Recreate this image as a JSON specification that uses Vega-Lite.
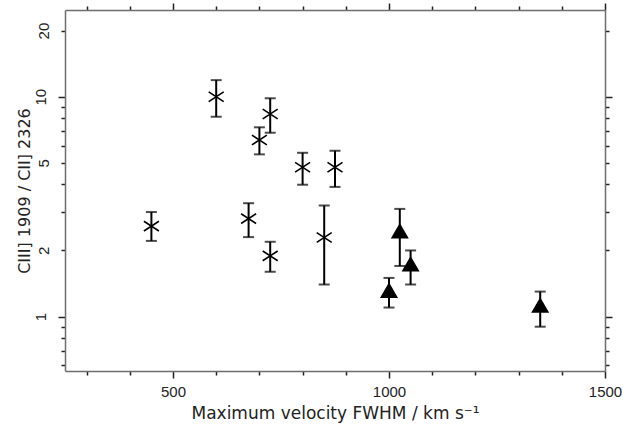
{
  "$schema": "https://vega.github.io/schema/vega-lite/v6.json",
  "width": 540,
  "height": 361,
  "autosize": "none",
  "padding": {"left": 65, "top": 10, "right": 36, "bottom": 65},
  "background": "white",
  "config": {
    "view": {"stroke": null},
    "axis": {
      "domainColor": "#6e6e6e",
      "domainWidth": 1.5,
      "tickColor": "#222222",
      "tickWidth": 1.5,
      "grid": false,
      "labelFont": "Liberation Sans",
      "labelFontSize": 15,
      "labelColor": "#222222",
      "titleFont": "DejaVu Sans",
      "titleFontSize": 16,
      "titleFontWeight": "normal",
      "titleColor": "#222222",
      "labelOverlap": false,
      "labelBound": false,
      "labelFlush": false
    }
  },
  "data": {
    "values": [
      {"fwhm": 450, "ratio": 2.58, "lo": 2.21, "hi": 2.99, "group": "cross"},
      {"fwhm": 600, "ratio": 10.0, "lo": 8.11, "hi": 11.9, "group": "cross"},
      {"fwhm": 725, "ratio": 8.34, "lo": 6.86, "hi": 9.84, "group": "cross"},
      {"fwhm": 700, "ratio": 6.36, "lo": 5.47, "hi": 7.26, "group": "cross"},
      {"fwhm": 800, "ratio": 4.78, "lo": 3.98, "hi": 5.56, "group": "cross"},
      {"fwhm": 875, "ratio": 4.78, "lo": 3.89, "hi": 5.68, "group": "cross"},
      {"fwhm": 675, "ratio": 2.79, "lo": 2.30, "hi": 3.28, "group": "cross"},
      {"fwhm": 725, "ratio": 1.89, "lo": 1.60, "hi": 2.19, "group": "cross"},
      {"fwhm": 850, "ratio": 2.29, "lo": 1.40, "hi": 3.20, "group": "cross"},
      {"fwhm": 1000, "ratio": 1.32, "lo": 1.10, "hi": 1.50, "group": "triangle"},
      {"fwhm": 1025, "ratio": 2.46, "lo": 1.70, "hi": 3.09, "group": "triangle"},
      {"fwhm": 1050, "ratio": 1.74, "lo": 1.40, "hi": 2.00, "group": "triangle"},
      {"fwhm": 1350, "ratio": 1.13, "lo": 0.90, "hi": 1.30, "group": "triangle"}
    ]
  },
  "resolve": {"axis": {"x": "independent", "y": "independent"}},
  "layer": [
    {
      "mark": {"type": "rule", "color": "black", "strokeWidth": 2},
      "encoding": {
        "x": {
          "field": "fwhm", "type": "quantitative",
          "scale": {"domain": [250, 1500], "nice": false, "zero": false},
          "axis": {
            "orient": "bottom",
            "title": "Maximum velocity FWHM / km s⁻¹",
            "titleFontSize": 17,
            "titlePadding": 6,
            "values": [300, 400, 500, 600, 700, 800, 900, 1000, 1100, 1200, 1300, 1400, 1500],
            "labelExpr": "(datum.value == 500 || datum.value == 1000 || datum.value == 1500) ? datum.label : ''",
            "format": "d",
            "tickSize": {"condition": {"test": "datum.value == 500 || datum.value == 1000 || datum.value == 1500", "value": 7}, "value": 4},
            "labelPadding": 6
          }
        },
        "y": {
          "field": "lo", "type": "quantitative",
          "scale": {"type": "log", "domain": [0.566, 24.8], "nice": false},
          "axis": {
            "orient": "left",
            "title": "CIII] 1909 / CII] 2326",
            "titlePadding": 1,
            "values": [0.6, 0.7, 0.8, 0.9, 1, 2, 3, 4, 5, 6, 7, 8, 9, 10, 20],
            "labelExpr": "(datum.value == 1 || datum.value == 2 || datum.value == 5 || datum.value == 10 || datum.value == 20) ? datum.label : ''",
            "tickSize": {"condition": {"test": "datum.value == 1 || datum.value == 10", "value": 7}, "value": 4},
            "labelAngle": -90,
            "labelAlign": "center",
            "labelBaseline": "alphabetic",
            "labelPadding": 13
          }
        },
        "y2": {"field": "hi"}
      }
    },
    {
      "transform": [{"fold": ["lo", "hi"], "as": ["end", "val"]}],
      "mark": {"type": "tick", "color": "black", "thickness": 2, "size": 11, "orient": "horizontal"},
      "encoding": {
        "x": {
          "field": "fwhm", "type": "quantitative",
          "axis": {
            "orient": "top",
            "title": null,
            "values": [300, 400, 500, 600, 700, 800, 900, 1000, 1100, 1200, 1300, 1400, 1500],
            "labels": false,
            "tickSize": {"condition": {"test": "datum.value == 500 || datum.value == 1000 || datum.value == 1500", "value": 7}, "value": 4}
          }
        },
        "y": {
          "field": "val", "type": "quantitative",
          "axis": {
            "orient": "right",
            "title": null,
            "values": [0.6, 0.7, 0.8, 0.9, 1, 2, 3, 4, 5, 6, 7, 8, 9, 10, 20],
            "labels": false,
            "tickSize": {"condition": {"test": "datum.value == 1 || datum.value == 10", "value": 7}, "value": 4}
          }
        }
      }
    },
    {
      "transform": [{"filter": "datum.group == 'cross'"}],
      "mark": {"type": "point", "shape": "M-1,-0.65L1,0.65M-1,0.65L1,-0.65", "size": 225, "filled": false, "stroke": "black", "strokeWidth": 1.6, "opacity": 1},
      "encoding": {
        "x": {"field": "fwhm", "type": "quantitative", "axis": null},
        "y": {"field": "ratio", "type": "quantitative", "axis": null}
      }
    },
    {
      "transform": [{"filter": "datum.group == 'triangle'"}],
      "mark": {"type": "point", "shape": "triangle-up", "size": 324, "filled": true, "color": "black", "opacity": 1},
      "encoding": {
        "x": {"field": "fwhm", "type": "quantitative", "axis": null},
        "y": {"field": "ratio", "type": "quantitative", "axis": null}
      }
    }
  ]
}
